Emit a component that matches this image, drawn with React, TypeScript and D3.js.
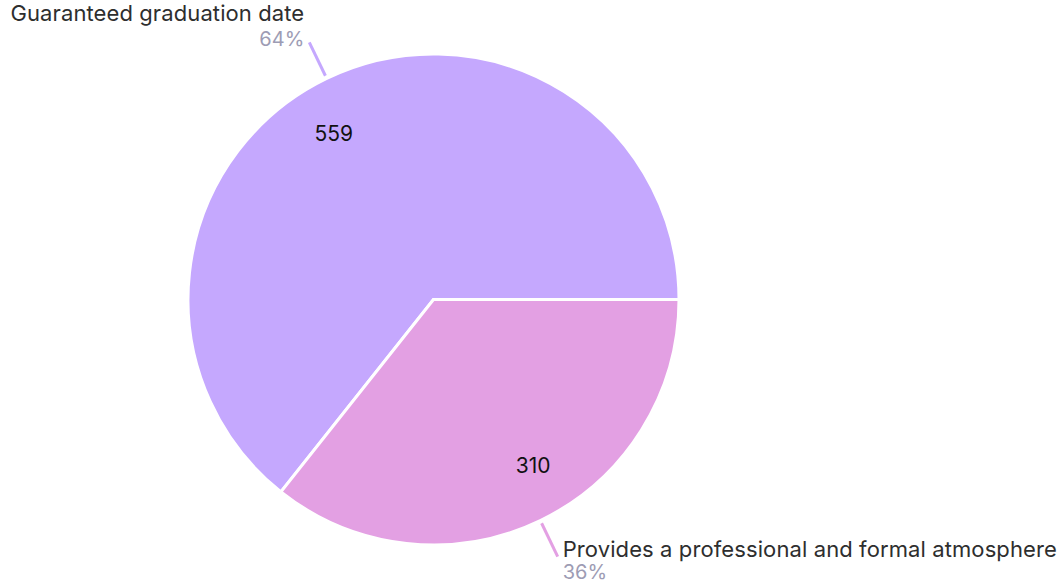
import React from 'react';
import * as d3 from 'd3';

const categories = ['Guaranteed graduation date', 'Provides a professional and formal atmosphere'];
const values = [559, 310];
const percentLabels = ['64%', '36%'];
const colors = ['#c5a8fe', '#e3a0e3'];

const width = 1062;
const height = 583;
const cx = 433.5;
const cy = 299.5;
const radius = 245.5;
const font = 'Inter, "Noto Sans", sans-serif';

export default function App() {
  const total = d3.sum(values);
  const start = Math.PI / 2 - (2 * Math.PI * values[0]) / total;

  const pie = d3
    .pie<number>()
    .sort(null)
    .startAngle(start)
    .endAngle(start + 2 * Math.PI);
  const arcs = pie(values);

  const arc = d3.arc<d3.PieArcDatum<number>>().innerRadius(0).outerRadius(radius);

  const polar = (a: number, r: number) => [cx + r * Math.sin(a), cy - r * Math.cos(a)];

  return (
    <svg
      width={width}
      height={height}
      style={{ position: 'absolute', left: 0, top: 0, fontFamily: font }}
    >
      <g transform={`translate(${cx},${cy})`}>
        {arcs.map((d, i) => (
          <path key={i} d={arc(d) || ''} fill={colors[i]} stroke="#fff" strokeWidth={3} />
        ))}
      </g>
      {arcs.map((d, i) => {
        const mid = (d.startAngle + d.endAngle) / 2;
        const [x1, y1] = polar(mid, radius + 3);
        const [x2, y2] = polar(mid, radius + 40);
        const [lx, ly] = polar(mid - 0.09, 194);
        const left = x2 < cx;
        const top = y2 < cy;
        const tx = left ? x2 - 5 : x2 + 5;
        const nameY = top ? y2 - 21 : y2;
        const pctY = top ? y2 + 4 : y2 + 22;
        const anchor = left ? 'end' : 'start';
        return (
          <g key={i}>
            <line x1={x1} y1={y1} x2={x2} y2={y2} stroke={colors[i]} strokeWidth={3} />
            <text
              x={lx}
              y={ly}
              textAnchor="middle"
              dominantBaseline="central"
              fontSize={21}
              fill="#111"
            >
              {values[i]}
            </text>
            <text x={tx} y={nameY} textAnchor={anchor} fontSize={22} letterSpacing={0.1} fill="#2e2e2e">
              {categories[i]}
            </text>
            <text x={tx} y={pctY} textAnchor={anchor} fontSize={20} fill="#9d9cb4">
              {percentLabels[i]}
            </text>
          </g>
        );
      })}
    </svg>
  );
}
